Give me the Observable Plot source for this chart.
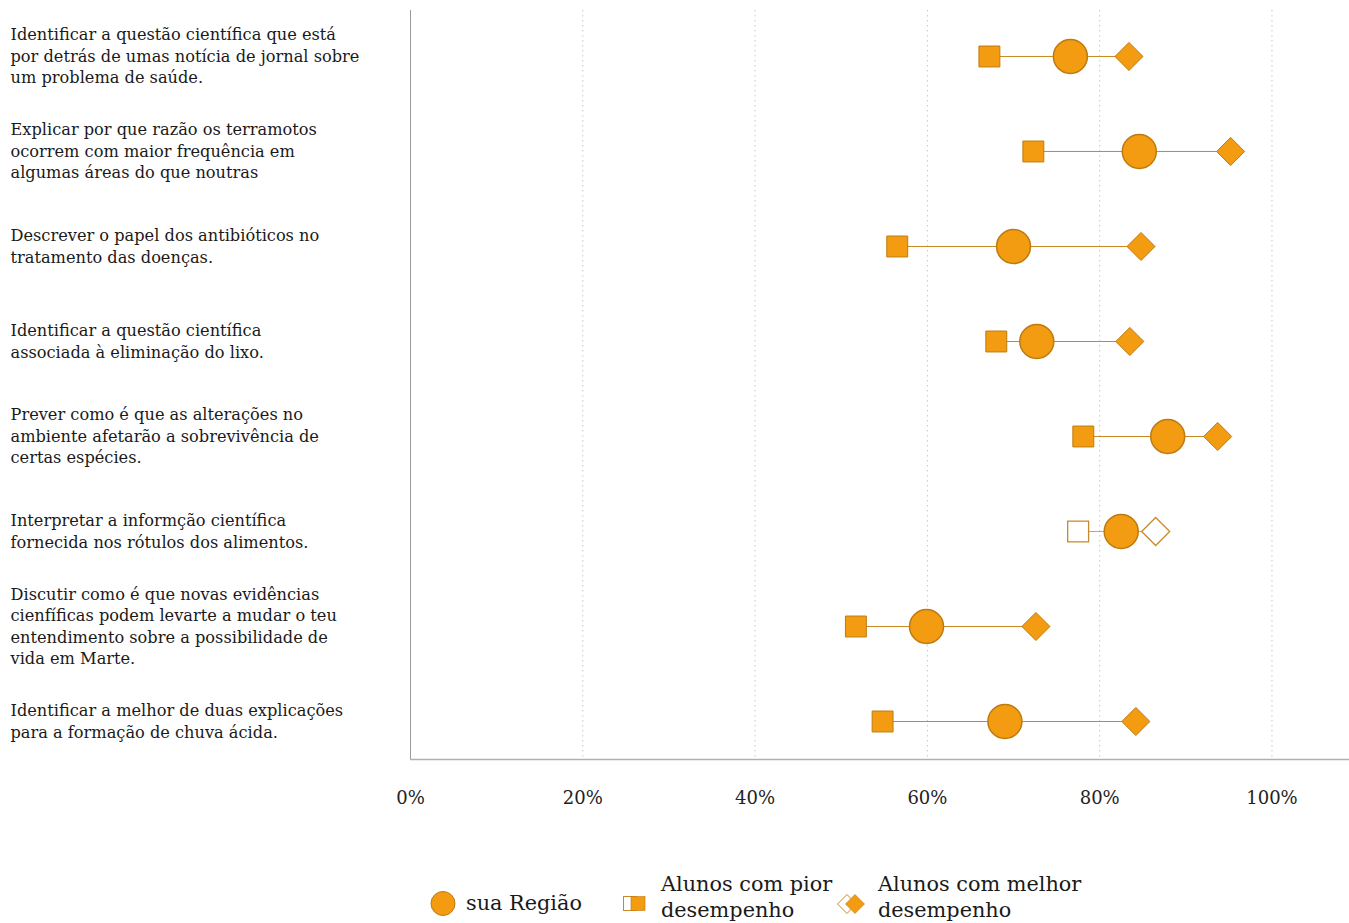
<!DOCTYPE html>
<html><head><meta charset="utf-8">
<script src="https://cdn.jsdelivr.net/npm/d3@7"></script>
<script src="https://cdn.jsdelivr.net/npm/@observablehq/plot@0.6"></script>
<style>
body{margin:0;background:#fff;font-family:"DejaVu Serif",serif;overflow:hidden;}
#legend{height:73px;}
</style></head><body>
<div id="chart"></div><div id="legend"></div>
<script>
const tasks = [
"Identificar a questão científica que está\npor detrás de umas notícia de jornal sobre\num problema de saúde.",
"Explicar por que razão os terramotos\nocorrem com maior frequência em\nalgumas áreas do que noutras",
"Descrever o papel dos antibióticos no\ntratamento das doenças.",
"Identificar a questão científica\nassociada à eliminação do lixo.",
"Prever como é que as alterações no\nambiente afetarão a sobrevivência de\ncertas espécies.",
"Interpretar a informção científica\nfornecida nos rótulos dos alimentos.",
"Discutir como é que novas evidências\ncienfíficas podem levarte a mudar o teu\nentendimento sobre a possibilidade de\nvida em Marte.",
"Identificar a melhor de duas explicações\npara a formação de chuva ácida."
];
const regiao = [76.6, 84.6, 70.0, 72.7, 87.9, 82.5, 59.9, 69.0];
const pior   = [67.2, 72.3, 56.5, 68.0, 78.1, 77.5, 51.7, 54.8];
const melhor = [83.4, 95.2, 84.8, 83.5, 93.7, 86.5, 72.6, 84.2];
const preenchido = [true, true, true, true, true, false, true, true];
const xTicks = [0, 20, 40, 60, 80, 100];
const legendLabels = ["sua Região", ["Alunos com pior", "desempenho"], ["Alunos com melhor", "desempenho"]];

const ORANGE = "#f39c12", EDGE = "#bd7a0e", LINK = "#c88a22";
const rows = tasks.map((t, i) => ({i, task: t, regiao: regiao[i], pior: pior[i], melhor: melhor[i], filled: preenchido[i]}));

const squareSym = {draw(ctx, size){const s = Math.sqrt(size)/2; ctx.moveTo(-s,-s); ctx.lineTo(s,-s); ctx.lineTo(s,s); ctx.lineTo(-s,s); ctx.closePath();}};
const diamondSym = {draw(ctx, size){const h = Math.sqrt(size/2); ctx.moveTo(0,-h); ctx.lineTo(h,0); ctx.lineTo(0,h); ctx.lineTo(-h,0); ctx.closePath();}};

const yDomain = [-0.484, 7.4];
const filled = rows.filter(d => d.filled), open = rows.filter(d => !d.filled);

const chart = Plot.plot({
  width: 1349, height: 850,
  marginLeft: 410, marginRight: 0, marginTop: 10, marginBottom: 91,
  style: {fontFamily: "DejaVu Serif", fontSize: "18px", color: "#222", background: "white"},
  x: {domain: [0, 109], ticks: xTicks, tickFormat: d => d + "%", tickSize: 0, tickPadding: 32, label: null},
  y: {domain: yDomain, reverse: true, axis: null},
  marks: [
    Plot.ruleX(xTicks.filter(d => d > 0), {stroke: "#c8c8c8", strokeDasharray: "1.5,3.5"}),
    Plot.ruleX([0], {stroke: "#9a9a9a"}),
    Plot.ruleY([yDomain[1]], {stroke: "#b0b0b0", strokeWidth: 1.5}),
    Plot.text(rows, {y: "i", text: "task", frameAnchor: "left", textAnchor: "start", dx: -400, dy: -1.5, fontSize: 16.2, lineHeight: 1.33, fill: "#1a1a1a"}),
    Plot.link(filled, {x1: "pior", x2: "melhor", y1: "i", y2: "i", stroke: LINK, strokeWidth: 1}),
    Plot.link(open, {x1: "pior", x2: "melhor", y1: "i", y2: "i", stroke: "#d6a354", strokeWidth: 1}),
    Plot.dot(filled, {x: "pior", y: "i", symbol: squareSym, r: 11.8, fill: ORANGE, stroke: EDGE, strokeWidth: 1}),
    Plot.dot(open, {x: "pior", y: "i", symbol: squareSym, r: 11.8, fill: "white", stroke: "#c8892a", strokeWidth: 1.3}),
    Plot.dot(filled, {x: "melhor", y: "i", symbol: diamondSym, r: 11.2, fill: ORANGE, stroke: EDGE, strokeWidth: 1}),
    Plot.dot(open, {x: "melhor", y: "i", symbol: diamondSym, r: 11.2, fill: "white", stroke: "#c8892a", strokeWidth: 1.3}),
    Plot.dot(rows, {x: "regiao", y: "i", r: 17, fill: ORANGE, stroke: EDGE, strokeWidth: 1.5})
  ]
});
document.getElementById("chart").appendChild(chart);

// Legend
const svg = d3.select("#legend").append("svg").attr("width", 1349).attr("height", 73)
  .style("font-family", "DejaVu Serif").style("font-size", "20.8px");
svg.append("circle").attr("cx", 443).attr("cy", 53.5).attr("r", 12).attr("fill", ORANGE).attr("stroke", EDGE);
svg.append("text").attr("x", 466).attr("y", 60).attr("fill", "#1a1a1a").text(legendLabels[0]);
svg.append("rect").attr("x", 623.5).attr("y", 46.5).attr("width", 13).attr("height", 14).attr("fill", "white").attr("stroke", "#c8892a");
svg.append("rect").attr("x", 631).attr("y", 46.5).attr("width", 14).attr("height", 14).attr("fill", ORANGE).attr("stroke", EDGE).attr("stroke-width", 0.6);
const t1 = svg.append("text").attr("x", 661).attr("fill", "#1a1a1a");
t1.append("tspan").attr("x", 661).attr("y", 41).text(legendLabels[1][0]);
t1.append("tspan").attr("x", 661).attr("y", 67).text(legendLabels[1][1]);
const dia = (cx, cy, h) => `M${cx},${cy-h}L${cx+h},${cy}L${cx},${cy+h}L${cx-h},${cy}Z`;
svg.append("path").attr("d", dia(847, 54, 9.5)).attr("fill", "white").attr("stroke", "#c8892a");
svg.append("path").attr("d", dia(855, 54, 9.5)).attr("fill", ORANGE).attr("stroke", EDGE).attr("stroke-width", 0.6);
const t2 = svg.append("text").attr("x", 878).attr("fill", "#1a1a1a");
t2.append("tspan").attr("x", 878).attr("y", 41).text(legendLabels[2][0]);
t2.append("tspan").attr("x", 878).attr("y", 67).text(legendLabels[2][1]);
</script>
</body></html>
